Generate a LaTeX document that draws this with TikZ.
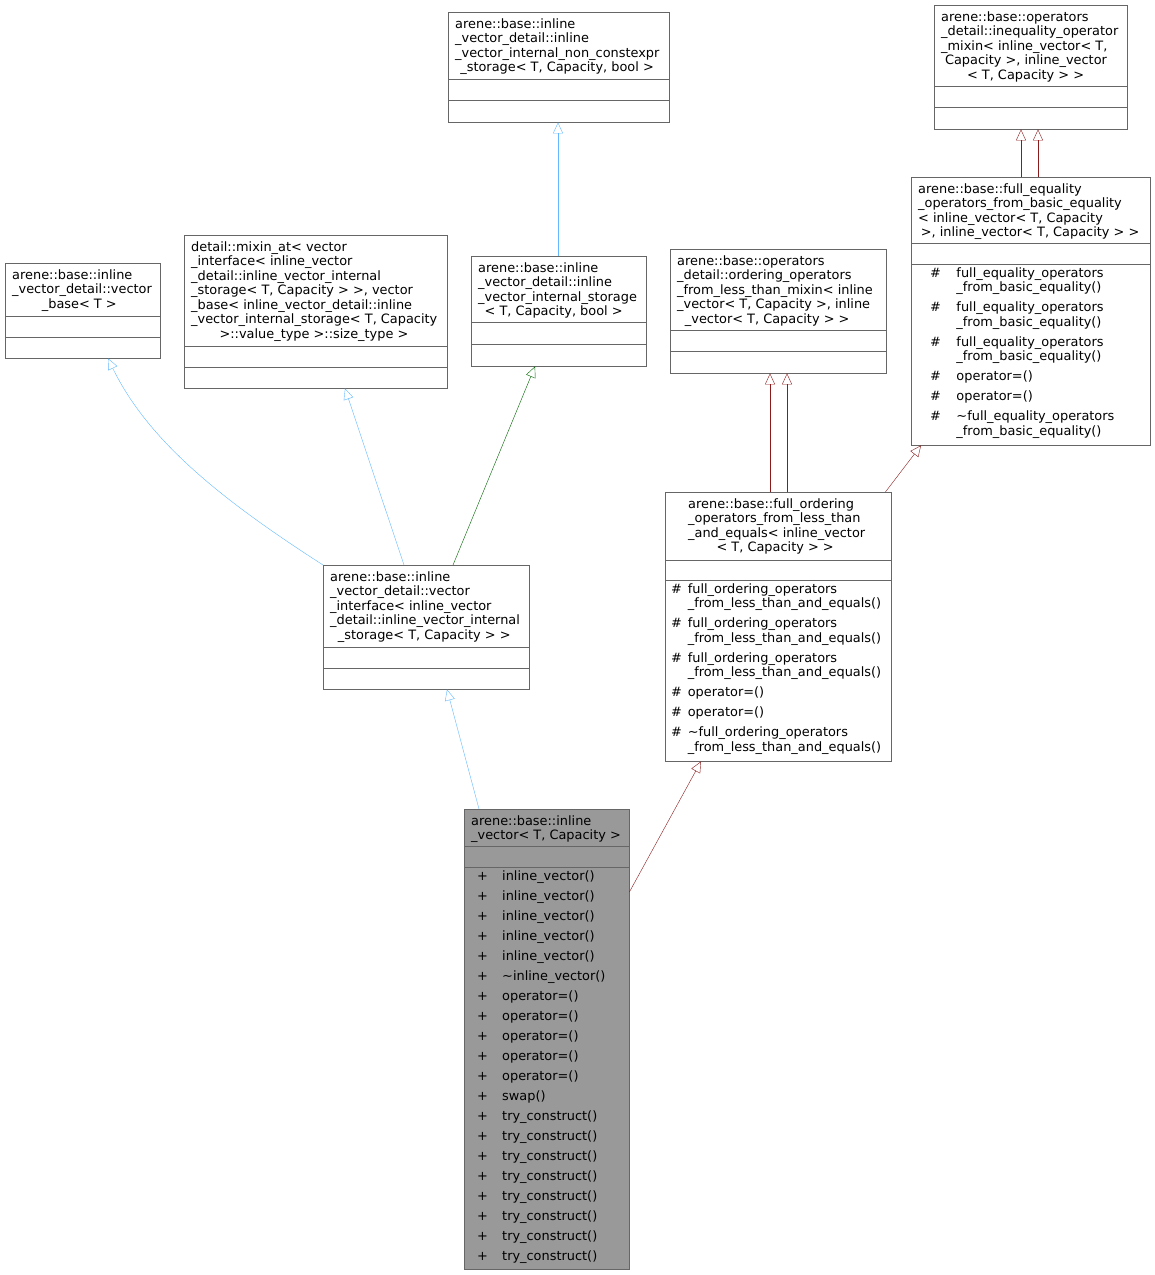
\documentclass[tikz,border=0pt]{standalone}
\usepackage{fontspec}
\setmainfont{DejaVu Sans}
\usetikzlibrary{arrows.meta, calc, positioning}
\definecolor{edgeblue}{HTML}{63B8FF}
\definecolor{edgered}{HTML}{8B1A1A}
\definecolor{edgegreen}{HTML}{006400}
\definecolor{boxline}{HTML}{666666}
\tikzset{
    classbox/.style = {draw=boxline, rectangle, anchor=north west, inner sep=0pt, fill=white},
    textnode/.style = {draw=none, fill=none, anchor=north west, inner sep=0pt, align=left,
      font=\fontsize{12.9}{14.5}\selectfont},
    sepline/.style = {draw=boxline},
    inherit/.style = {-{Triangle[open, length=11pt, width=10pt]}},
    every text node part/.style={align=left}
}
\newcommand{\boxsep}[3]{\draw[sepline] ($(#1.north west)+(0,#2)$) -- ($(#1.north east)+(0,#2)$);
    \draw[sepline] ($(#1.north west)+(0,#3)$) -- ($(#1.north east)+(0,#3)$);}
\begin{document}
\begin{tikzpicture}[x=1pt, y=-1pt]
    \useasboundingbox (0,0) rectangle (1155,1275);

    % base classes
    \node [name=vbase, classbox, minimum width=155, minimum height=95] at (5,263) {};
    \boxsep{vbase}{53}{74}
    \node [textnode] at (12,269) {arene::base::inline\\ \_vector\_detail::vector\\ \hspace{2.3em}\_base< T >};

    \node [name=mixinat, classbox, minimum width=263, minimum height=153] at (184,235) {};
    \boxsep{mixinat}{111}{132}
    \node [textnode] at (191,241) {detail::mixin\_at< vector\\ \_interface< inline\_vector\\ \_detail::inline\_vector\_internal\\ \_storage< T, Capacity > >, vector\\ \_base< inline\_vector\_detail::inline\\ \_vector\_internal\_storage< T, Capacity\\ \hspace{2.2em}>::value\_type >::size\_type >};

    \node [name=intstorage, classbox, minimum width=175, minimum height=110] at (471,256) {};
    \boxsep{intstorage}{66}{88}
    \node [textnode] at (478,262) {arene::base::inline\\ \_vector\_detail::inline\\ \_vector\_internal\_storage\\ \hspace{0.5em}< T, Capacity, bool >};

    \node [name=ncstorage, classbox, minimum width=221, minimum height=110] at (448,12) {};
    \boxsep{ncstorage}{67}{88}
    \node [textnode] at (455,18) {arene::base::inline\\ \_vector\_detail::inline\\ \_vector\_internal\_non\_constexpr\\ \hspace{0.4em}\_storage< T, Capacity, bool >};

    \node [name=ordmixin, classbox, minimum width=216, minimum height=124] at (670,249) {};
    \boxsep{ordmixin}{81}{102}
    \node [textnode] at (677,255) {arene::base::operators\\ \_detail::ordering\_operators\\ \_from\_less\_than\_mixin< inline\\ \_vector< T, Capacity >, inline\\ \hspace{0.6em}\_vector< T, Capacity > >};

    \node [name=ineqmixin, classbox, minimum width=193, minimum height=124] at (934,5) {};
    \boxsep{ineqmixin}{81}{102}
    \node [textnode] at (941,11) {arene::base::operators\\ \_detail::inequality\_operator\\ \_mixin< inline\_vector< T,\\ \hspace{0.3em}Capacity >, inline\_vector\\ \hspace{2em}< T, Capacity > >};

    \node [name=fulleq, classbox, minimum width=239, minimum height=268] at (911,177) {};
    \boxsep{fulleq}{66}{87}
    \node [textnode] at (918,183) {arene::base::full\_equality\\ \_operators\_from\_basic\_equality\\ < inline\_vector< T, Capacity\\ \hspace{0.2em}>, inline\_vector< T, Capacity > >};
    \node [textnode] at (930,267) {\begin{tabular}{@{}l@{\hspace{1.2em}}l@{}}
        \#& full\_equality\_operators\\ & \_from\_basic\_equality()\\[5.5pt]
        \#& full\_equality\_operators\\ & \_from\_basic\_equality()\\[5.5pt]
        \#& full\_equality\_operators\\ & \_from\_basic\_equality()\\[5.5pt]
        \#& operator=()\\[5.5pt]
        \#& operator=()\\[5.5pt]
        \#& \textasciitilde full\_equality\_operators\\ & \_from\_basic\_equality()
    \end{tabular}};

    \node [name=fullord, classbox, minimum width=226, minimum height=269] at (665,492) {};
    \boxsep{fullord}{68}{88}
    \node [textnode] at (688,498) {arene::base::full\_ordering\\ \_operators\_from\_less\_than\\ \_and\_equals< inline\_vector\\ \hspace{2.2em}< T, Capacity > >};
    \node [textnode] at (671,583) {\begin{tabular}{@{}l@{\hspace{0.45em}}l@{}}
        \#& full\_ordering\_operators\\ & \_from\_less\_than\_and\_equals()\\[5.5pt]
        \#& full\_ordering\_operators\\ & \_from\_less\_than\_and\_equals()\\[5.5pt]
        \#& full\_ordering\_operators\\ & \_from\_less\_than\_and\_equals()\\[5.5pt]
        \#& operator=()\\[5.5pt]
        \#& operator=()\\[5.5pt]
        \#& \textasciitilde full\_ordering\_operators\\ & \_from\_less\_than\_and\_equals()
    \end{tabular}};

    \node [name=vinterface, classbox, minimum width=206, minimum height=124] at (323,565) {};
    \boxsep{vinterface}{82}{103}
    \node [textnode] at (330,571) {arene::base::inline\\ \_vector\_detail::vector\\ \_interface< inline\_vector\\ \_detail::inline\_vector\_internal\\ \hspace{0.6em}\_storage< T, Capacity > >};

    % the class itself
    \node [name=ivector, classbox, fill=black!40, minimum width=165, minimum height=460] at (464,809) {};
    \boxsep{ivector}{37}{58}
    \node [textnode] at (471,815) {arene::base::inline\\ \_vector< T, Capacity >};
    \node [textnode] at (477,870) {\begin{tabular}{@{}l@{\hspace{1.1em}}l@{}}
        +& inline\_vector()\\[5.5pt] +& inline\_vector()\\[5.5pt] +& inline\_vector()\\[5.5pt]
        +& inline\_vector()\\[5.5pt] +& inline\_vector()\\[5.5pt] +& \textasciitilde inline\_vector()\\[5.5pt]
        +& operator=()\\[5.5pt] +& operator=()\\[5.5pt] +& operator=()\\[5.5pt]
        +& operator=()\\[5.5pt] +& operator=()\\[5.5pt] +& swap()\\[5.5pt]
        +& try\_construct()\\[5.5pt] +& try\_construct()\\[5.5pt] +& try\_construct()\\[5.5pt]
        +& try\_construct()\\[5.5pt] +& try\_construct()\\[5.5pt] +& try\_construct()\\[5.5pt]
        +& try\_construct()\\[5.5pt] +& try\_construct()
    \end{tabular}};

    % inheritance
    \draw [inherit, edgeblue] ($(ivector.north west)+(15,0)$) -- ($(vinterface.south west)+(124,0)$);
    \draw [inherit, edgered] ($(ivector.north east)+(0,83)$) -- ($(fullord.south west)+(36,0)$);
    \draw [inherit, edgeblue] (vinterface.north west) .. controls (230,505) and (150,445) .. ($(vbase.south west)+(103,0)$);
    \draw [inherit, edgeblue] ($(vinterface.north west)+(81,0)$) -- ($(mixinat.south west)+(161,0)$);
    \draw [inherit, edgegreen] ($(vinterface.north west)+(130,0)$) -- ($(intstorage.south west)+(64,0)$);
    \draw [inherit, edgeblue] ($(intstorage.north west)+(87,0)$) -- ($(ncstorage.south west)+(110,0)$);
    \draw [inherit, edgered] ($(fullord.north west)+(105,0)$) -- ($(ordmixin.south west)+(100,0)$);
    \draw [inherit, edgered] ($(fullord.north west)+(122,0)$) -- ($(ordmixin.south west)+(117,0)$);
    \draw [inherit, edgered] ($(fullord.north east)+(-6,0)$) -- ($(fulleq.south west)+(10,0)$);
    \draw [inherit, edgered] ($(fulleq.north west)+(110,0)$) -- ($(ineqmixin.south west)+(87,0)$);
    \draw [inherit, edgered] ($(fulleq.north west)+(127,0)$) -- ($(ineqmixin.south west)+(104,0)$);
\end{tikzpicture}
\end{document}
